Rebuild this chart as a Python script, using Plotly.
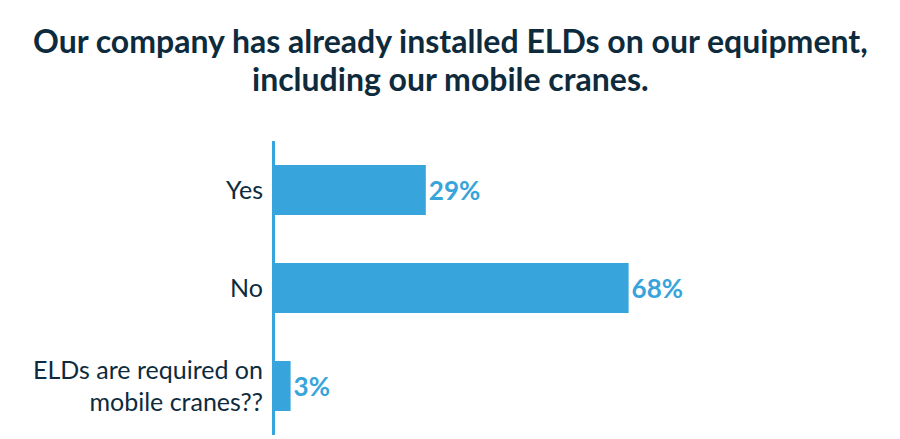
import plotly.graph_objects as go

categories = ["Yes", "No", "ELDs are required on<br>mobile cranes??"]
values = [29, 68, 3]
labels = ["29%", "68%", "3%"]
title_lines = ["Our company has already installed ELDs on our equipment,",
               "including our mobile cranes."]

NAVY = "#0d2b3d"
BLUE = "#37a4db"

W, H = 900, 439
ML, MR, MT, MB = 275, 105, 141, 4
plot_w = W - ML - MR
plot_h = H - MT - MB

fig = go.Figure(go.Bar(
    x=values, y=categories, orientation="h",
    marker=dict(color=BLUE, line=dict(width=0)),
    width=0.51,
    text=labels, textposition="outside", cliponaxis=False,
    textfont=dict(family="Lato", size=26, color=BLUE, weight="bold"),
))

for line, top_px in zip(title_lines, [19, 57]):
    fig.add_annotation(
        text="<b>" + line + "</b>",
        xref="paper", yref="paper",
        x=(W / 2 - ML) / plot_w, y=(H - MB - top_px) / plot_h,
        xanchor="center", yanchor="top", showarrow=False, align="center",
        font=dict(family="Lato", size=32, color=NAVY),
    )

fig.update_layout(
    width=W, height=H,
    margin=dict(l=ML, r=MR, t=MT, b=MB),
    paper_bgcolor="white", plot_bgcolor="white",
    showlegend=False,
    xaxis=dict(range=[0, 100], visible=False),
    yaxis=dict(
        autorange="reversed", range=[-0.5, 2.5],
        showline=True, linecolor=BLUE, linewidth=3,
        showgrid=False, zeroline=False, ticks="",
        ticklabelstandoff=4,
        tickfont=dict(family="Lato", size=25, color=NAVY),
    ),
    bargap=0.49,
)

fig.write_html("out.html", config={"displayModeBar": False},
               post_script="document.body.style.margin='0';document.body.style.padding='0';")
